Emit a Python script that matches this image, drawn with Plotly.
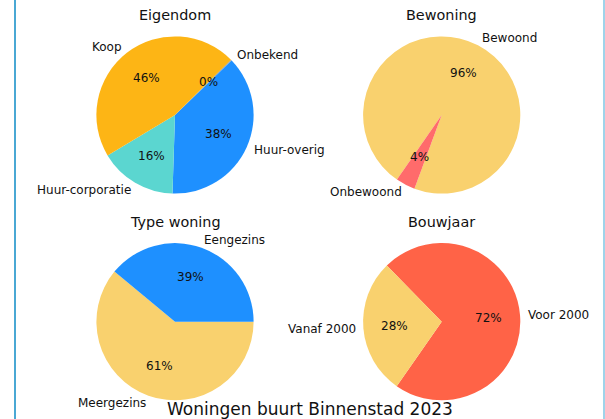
import math
import plotly.graph_objects as go

W, H = 605, 419
OFF = 0

# ---- data (slices listed counter-clockwise from the start angle) ----
eig_labels = ["Koop", "Huur-corporatie", "Huur-overig", "Onbekend"]
eig_values = [46.2, 15.9, 37.7, 0.2]
eig_colors = ["#FDB515", "#5BD6D0", "#1E90FF", "#9E9E9E"]

bew_labels = ["Onbewoond", "Bewoond"]
bew_values = [4, 96]
bew_colors = ["#FF6B6B", "#F9D16E"]

typ_labels = ["Eengezins", "Meergezins"]
typ_values = [39, 61]
typ_colors = ["#1E90FF", "#F9D16E"]

bou_labels = ["Vanaf 2000", "Voor 2000"]
bou_values = [28, 72]
bou_colors = ["#F9D16E", "#FF6347"]

titles = ["Eigendom", "Bewoning", "Type woning", "Bouwjaar"]
suptitle = "Woningen buurt Binnenstad 2023"

# ---- layout (screen pixels) ----
R = 78.6
centers = [(175, 115), (441.7, 115), (175, 321.7), (441.7, 321.7)]
start_angles = [44.6, 235.3, 0.0, 134.3]   # degrees, counter-clockwise from 3 o'clock
title_y = [15, 15, 222, 222]
FONT = "DejaVu Sans"
TXT = "#111111"
SPAN = 1.6  # wanted axis half-range in units of the pie radius


def fx(x):
    return (x - OFF) / W


def fy(y):
    return 1 - (y - OFF) / H


pies = [
    (eig_labels, eig_values, eig_colors),
    (bew_labels, bew_values, bew_colors),
    (typ_labels, typ_values, typ_colors),
    (bou_labels, bou_values, bou_colors),
]

fig = go.Figure()
layout_axes = {}
annotations = []

for i, ((labels, values, colors), (cx, cy), start, ty, title) in enumerate(
        zip(pies, centers, start_angles, title_y, titles)):
    xd = [fx(cx - R), fx(cx + R)]
    yd = [fy(cy + R), fy(cy - R)]
    # Plotly draws clockwise from rotation; reverse order to mimic counter-clockwise
    fig.add_trace(go.Pie(
        labels=labels[::-1], values=values[::-1],
        marker=dict(colors=colors[::-1], line=dict(width=0)),
        sort=False, direction="clockwise", rotation=90 - start,
        textinfo="none", hoverinfo="label+percent",
        domain=dict(x=xd, y=yd), showlegend=False,
    ))

    # overlay axes in units of the pie radius, clamped to the figure
    x0p = max(cx - SPAN * R, OFF)
    x1p = min(cx + SPAN * R, OFF + W)
    y0p = max(cy - SPAN * R, OFF)        # top (screen)
    y1p = min(cy + SPAN * R, OFF + H)    # bottom (screen)
    ax = "" if i == 0 else str(i + 1)
    layout_axes["xaxis" + ax] = dict(
        domain=[fx(x0p), fx(x1p)], range=[(x0p - cx) / R, (x1p - cx) / R],
        anchor="y" + ax, visible=False, fixedrange=True)
    layout_axes["yaxis" + ax] = dict(
        domain=[fy(y1p), fy(y0p)], range=[-(y1p - cy) / R, (cy - y0p) / R],
        anchor="x" + ax, visible=False, fixedrange=True)

    total = sum(values)
    cum = 0.0
    for lab, v in zip(labels, values):
        mid = math.radians(start + (cum + v / 2) / total * 360)
        cum += v
        c, s = math.cos(mid), math.sin(mid)
        annotations.append(dict(
            text=lab, xref="x" + ax, yref="y" + ax, x=1.1 * c, y=1.1 * s,
            xanchor="left" if c > 0 else "right", yanchor="middle",
            showarrow=False, borderpad=0, borderwidth=0,
            font=dict(family=FONT, size=12, color=TXT),
        ))
        annotations.append(dict(
            text=f"{round(v / total * 100):.0f}%", xref="x" + ax, yref="y" + ax,
            x=0.6 * c, y=0.6 * s, xanchor="center", yanchor="middle",
            showarrow=False, borderpad=0, borderwidth=0,
            font=dict(family=FONT, size=12, color=TXT),
        ))

    annotations.append(dict(
        text=title, xref="paper", yref="paper", x=fx(cx), y=fy(ty),
        xanchor="center", yanchor="middle", showarrow=False,
        font=dict(family=FONT, size=14.4, color=TXT),
    ))

annotations.append(dict(
    text=suptitle, xref="paper", yref="paper", x=fx(310), y=fy(409),
    xanchor="center", yanchor="middle", showarrow=False,
    font=dict(family=FONT, size=17, color=TXT),
))

shapes = [
    dict(type="line", xref="paper", yref="paper", x0=fx(15), x1=fx(15), y0=0, y1=1,
         line=dict(color="#4AA8D4", width=2)),
    dict(type="line", xref="paper", yref="paper", x0=fx(604), x1=fx(604), y0=0, y1=1,
         line=dict(color="#9FD3EA", width=2)),
]

fig.update_layout(
    width=W, height=H, margin=dict(l=0, r=0, t=0, b=0),
    paper_bgcolor="white", plot_bgcolor="rgba(0,0,0,0)",
    font=dict(family=FONT, size=12, color=TXT),
    annotations=annotations, shapes=shapes, showlegend=False,
    **layout_axes,
)

fig.write_html(
    "out.html",
    config={"displayModeBar": False},
    post_script="document.body.style.margin='0';document.body.style.overflow='hidden';",
)
